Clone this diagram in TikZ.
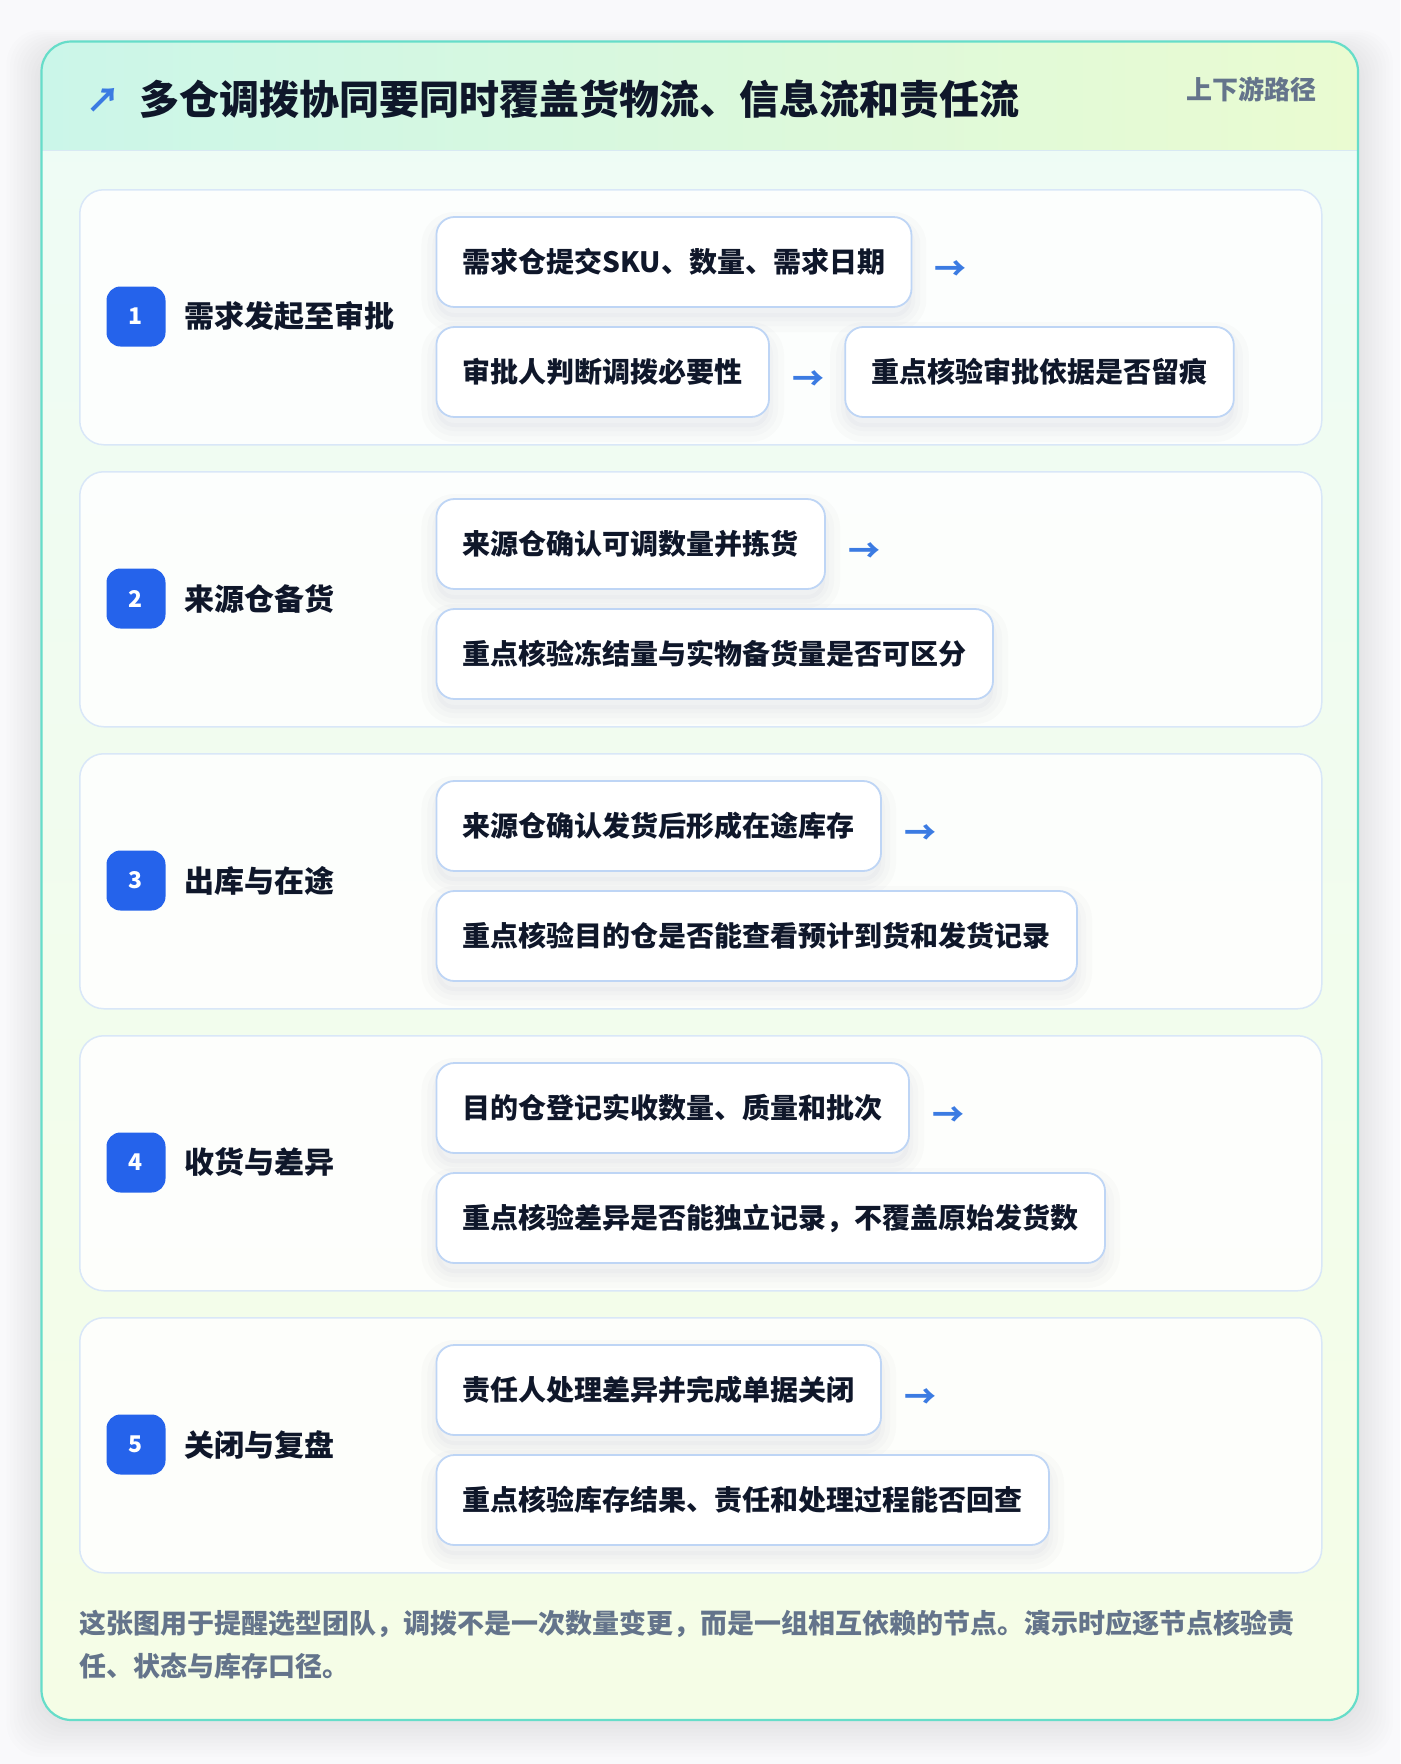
\documentclass[tikz,border=0pt]{standalone}
\usepackage{fontspec}
\setmainfont{Noto Sans CJK SC}
\usetikzlibrary{positioning}
\definecolor{pagebg}{HTML}{F9F9FB}
\definecolor{bodytop}{HTML}{EEFCF6}
\definecolor{bodybot}{HTML}{F5FDE6}
\definecolor{hdrL}{HTML}{CBF6E9}
\definecolor{hdrR}{HTML}{EAFBD1}
\definecolor{hdrline}{HTML}{D8E9F3}
\definecolor{cardborder}{HTML}{66DDC9}
\definecolor{panelborder}{HTML}{D9E7F8}
\definecolor{boxborder}{HTML}{BED5F5}
\definecolor{ink}{HTML}{0F172A}
\definecolor{muted}{HTML}{64748B}
\definecolor{badgeblue}{HTML}{2563EB}
\definecolor{arrowblue}{HTML}{3B7BE2}
\definecolor{shadowc}{HTML}{1E293B}
\begin{document}
\begin{tikzpicture}[x=1pt,y=-1pt,
  panel/.style={draw=panelborder, line width=1.5, fill=white, fill opacity=0.85, rounded corners=24, minimum width=1242, minimum height=255, anchor=north west, inner sep=0},
  badge/.style={fill=badgeblue, rounded corners=14, minimum width=59, minimum height=60, text=white, font=\fontsize{23}{23}\selectfont\bfseries, inner sep=0},
  stage/.style={anchor=west, text=ink, font=\fontsize{30}{30}\selectfont\bfseries, inner sep=0},
  boxshadow/.style={preaction={draw=shadowc, draw opacity=0.014, line width=30pt, fill=shadowc, fill opacity=0.02, transform canvas={yshift=-10pt}},
                    preaction={draw=shadowc, draw opacity=0.014, line width=18pt, transform canvas={yshift=-10pt}},
                    preaction={draw=shadowc, draw opacity=0.014, line width=8pt, transform canvas={yshift=-10pt}}},
  stepbox/.style={boxshadow, draw=boxborder, line width=1.8, fill=white, rounded corners=18, minimum height=90, inner xsep=26.3, inner ysep=0, anchor=west, text=ink, font=\fontsize{28}{28}\selectfont\bfseries},
  arrowglyph/.style={text=arrowblue, font=\fontsize{32}{32}\selectfont\bfseries, inner sep=0, anchor=west}
]
\useasboundingbox (0,0) rectangle (1400,1764);
\fill[pagebg] (0,0) rectangle (1400,1764);
% card shadow
\foreach \i in {1,...,10}{
  \fill[shadowc, opacity=0.009, rounded corners=34] (41.5-\i*3.5, 50-\i*2) rectangle (1358+\i*3.5, 1722+\i*3.5);
}
% card body and header
\begin{scope}
  \clip[rounded corners=30] (41.5,41.5) rectangle (1358,1720);
  \fill[top color=bodytop, bottom color=bodybot] (41.5,41.5) rectangle (1358,1720);
  \fill[left color=hdrL, right color=hdrR] (41.5,41.5) rectangle (1358,150.7);
\end{scope}
\draw[hdrline, line width=1.5] (42.5,150.7) -- (1357,150.7);
\draw[cardborder, line width=2.2, rounded corners=30] (41.5,41.5) rectangle (1358,1720);

% header texts
\node[anchor=west, text=arrowblue, font=\fontsize{34}{34}\selectfont\bfseries, inner sep=0] (icon) at (86,100) {↗};
\node[anchor=west, text=ink, font=\fontsize{40}{40}\selectfont\bfseries, inner sep=0] (title) at (139,99) {多仓调拨协同要同时覆盖货物流、信息流和责任流};
\node[anchor=east, text=muted, font=\fontsize{26}{26}\selectfont\bfseries, inner sep=0] (tag) at (1317,89) {上下游路径};

% ---------- row 1 ----------
\node[panel] (p1) at (79,189) {};
\node[badge] (n1) at (136,316.5) {1};
\node[stage] (s1) at (184,316.5) {需求发起至审批};
\node[stepbox] (b11) at (435.5,262) {需求仓提交SKU、数量、需求日期};
\node[arrowglyph, right=22pt of b11, yshift=-8.5pt] (a11) {→};
\node[stepbox] (b12) at (435.5,372) {审批人判断调拨必要性};
\node[arrowglyph, right=22pt of b12, yshift=-8.5pt] (a12) {→};
\node[stepbox, right=20pt of a12, yshift=8.5pt] (b13) {重点核验审批依据是否留痕};

% ---------- row 2 ----------
\node[panel] (p2) at (79,471) {};
\node[badge] (n2) at (136,598.5) {2};
\node[stage] (s2) at (184,598.5) {来源仓备货};
\node[stepbox] (b21) at (435.5,544) {来源仓确认可调数量并拣货};
\node[arrowglyph, right=22pt of b21, yshift=-8.5pt] (a21) {→};
\node[stepbox] (b22) at (435.5,654) {重点核验冻结量与实物备货量是否可区分};

% ---------- row 3 ----------
\node[panel] (p3) at (79,753) {};
\node[badge] (n3) at (136,880.5) {3};
\node[stage] (s3) at (184,880.5) {出库与在途};
\node[stepbox] (b31) at (435.5,826) {来源仓确认发货后形成在途库存};
\node[arrowglyph, right=22pt of b31, yshift=-8.5pt] (a31) {→};
\node[stepbox] (b32) at (435.5,936) {重点核验目的仓是否能查看预计到货和发货记录};

% ---------- row 4 ----------
\node[panel] (p4) at (79,1035) {};
\node[badge] (n4) at (136,1162.5) {4};
\node[stage] (s4) at (184,1162.5) {收货与差异};
\node[stepbox] (b41) at (435.5,1108) {目的仓登记实收数量、质量和批次};
\node[arrowglyph, right=22pt of b41, yshift=-8.5pt] (a41) {→};
\node[stepbox] (b42) at (435.5,1218) {重点核验差异是否能独立记录，不覆盖原始发货数};

% ---------- row 5 ----------
\node[panel] (p5) at (79,1317) {};
\node[badge] (n5) at (136,1444.5) {5};
\node[stage] (s5) at (184,1444.5) {关闭与复盘};
\node[stepbox] (b51) at (435.5,1390) {责任人处理差异并完成单据关闭};
\node[arrowglyph, right=22pt of b51, yshift=-8.5pt] (a51) {→};
\node[stepbox] (b52) at (435.5,1500) {重点核验库存结果、责任和处理过程能否回查};

% footer
\node[anchor=west, text=muted, font=\fontsize{27}{27}\selectfont\bfseries, inner sep=0] (f1) at (79,1624) {这张图用于提醒选型团队，调拨不是一次数量变更，而是一组相互依赖的节点。演示时应逐节点核验责};
\node[anchor=west, text=muted, font=\fontsize{27}{27}\selectfont\bfseries, inner sep=0] (f2) at (79,1666) {任、状态与库存口径。};
\end{tikzpicture}
\end{document}
